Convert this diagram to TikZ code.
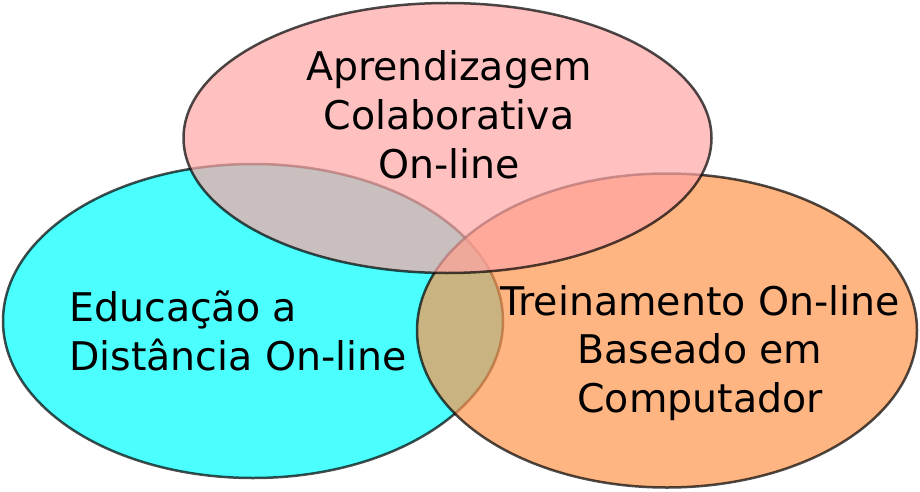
\documentclass[tikz,border=0pt]{standalone}
\usepackage{fontspec}
\setmainfont{DejaVu Sans}
\definecolor{cyanfill}{HTML}{00FFFF}
\definecolor{orangefill}{HTML}{FF954C}
\definecolor{pinkfill}{HTML}{FFA5A5}
\begin{document}
\begin{tikzpicture}[x=1pt,y=-1pt,
  setshape/.style={draw=black, draw opacity=0.7, line width=2.5pt, fill opacity=0.7},
  lbl/.style={font=\fontsize{39.5}{48.5}\selectfont, inner sep=0pt}]
\useasboundingbox (0,0) rectangle (920,492);
\path[setshape, fill=cyanfill] (253,321) ellipse [x radius=250, y radius=157];
\path[setshape, fill=orangefill] (667,330.5) ellipse [x radius=250, y radius=157];
\path[setshape, fill=pinkfill] (447.5,138) ellipse [x radius=264, y radius=135];
\node[lbl, align=center, anchor=base] (acol) at (449,178) {Aprendizagem\\Colaborativa\\On-line};
\node[lbl, align=left, anchor=base west] (edist) at (69,370) {Educação a\\Distância On-line};
\node[lbl, align=center, anchor=base] (tonl) at (700,412) {Treinamento On-line\\Baseado em\\Computador};
\end{tikzpicture}
\end{document}
